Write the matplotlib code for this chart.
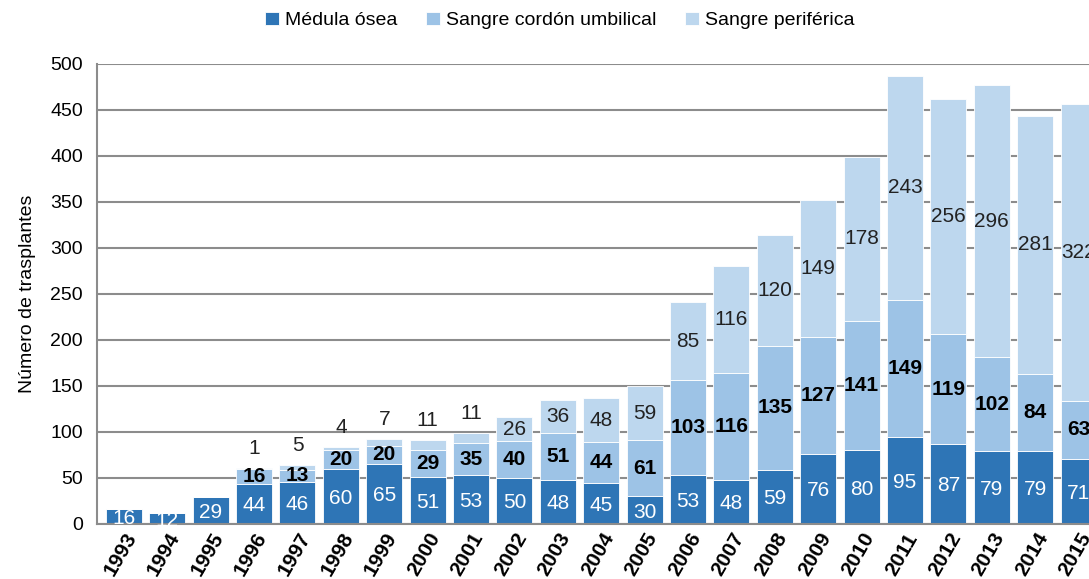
import numpy as np
import matplotlib.pyplot as plt

plt.rcParams['font.family'] = ['Liberation Sans', 'DejaVu Sans']

years = [str(y) for y in range(1993, 2016)]
medula = [16, 12, 29, 44, 46, 60, 65, 51, 53, 50, 48, 45, 30, 53, 48, 59, 76, 80, 95, 87, 79, 79, 71]
cordon = [0, 0, 0, 16, 13, 20, 20, 29, 35, 40, 51, 44, 61, 103, 116, 135, 127, 141, 149, 119, 102, 84, 63]
periferica = [0, 0, 0, 1, 5, 4, 7, 11, 11, 26, 36, 48, 59, 85, 116, 120, 149, 178, 243, 256, 296, 281, 322]

c_med = '#2E75B6'
c_cor = '#9DC3E6'
c_per = '#BDD7EE'

fig = plt.figure(figsize=(10.89, 5.79), dpi=100)
ax = fig.add_axes([97 / 1089, 1 - 524 / 579, 992 / 1089, 460 / 579])

x = np.arange(len(years))
med = np.array(medula)
cor = np.array(cordon)
per = np.array(periferica)
w = 0.83

ax.bar(x, med, w, color=c_med, edgecolor='white', linewidth=0.6, label='Médula ósea', zorder=2)
ax.bar(x, cor, w, bottom=med, color=c_cor, edgecolor='white', linewidth=0.6,
       label='Sangre cordón umbilical', zorder=2)
ax.bar(x, per, w, bottom=med + cor, color=c_per, edgecolor='white', linewidth=0.6,
       label='Sangre periférica', zorder=2)

for i in range(len(x)):
    ax.text(x[i], med[i] / 2 - 2, str(med[i]), ha='center', va='center',
            color='white', fontsize=15, zorder=3)
    if cor[i] > 0:
        ax.text(x[i], med[i] + cor[i] / 2, str(cor[i]), ha='center', va='center',
                color='black', fontsize=15, fontweight='bold', zorder=3)
    if per[i] > 0:
        top = med[i] + cor[i] + per[i]
        if per[i] < 15:
            ax.annotate(str(per[i]), (x[i], top), xytext=(0, 14), textcoords='offset points',
                        ha='center', va='center', color='#222222', fontsize=15, zorder=3)
        else:
            ax.text(x[i], med[i] + cor[i] + per[i] / 2, str(per[i]), ha='center', va='center',
                    color='#222222', fontsize=15, zorder=3)

ax.set_xlim(-0.62, 22.24)
ax.set_ylim(0, 500)
ax.set_yticks(range(0, 501, 50))
ax.set_xticks(x)
ax.set_xticklabels(years, rotation=60, ha='right', rotation_mode='anchor',
                   fontsize=15, fontweight='bold')
ax.tick_params(axis='y', labelsize=14, length=0, pad=10)
ax.tick_params(axis='x', length=0, pad=4)
ax.yaxis.grid(True, color='#8c8c8c', linewidth=1.5, zorder=0)
ax.set_axisbelow(True)
for s in ['top', 'right']:
    ax.spines[s].set_visible(False)
ax.spines['left'].set_color('#8c8c8c')
ax.spines['bottom'].set_color('#8c8c8c')
ax.spines['left'].set_linewidth(1.5)
ax.spines['bottom'].set_linewidth(1.5)
ax.set_ylabel('Número de trasplantes', fontsize=14, labelpad=10)

fig.legend(loc='upper center', bbox_to_anchor=(0.514, 1.01), ncol=3, frameon=False,
           fontsize=14, handlelength=0.7, handleheight=0.7, handletextpad=0.3, columnspacing=1.5)

fig.savefig('out.png', dpi=100)
